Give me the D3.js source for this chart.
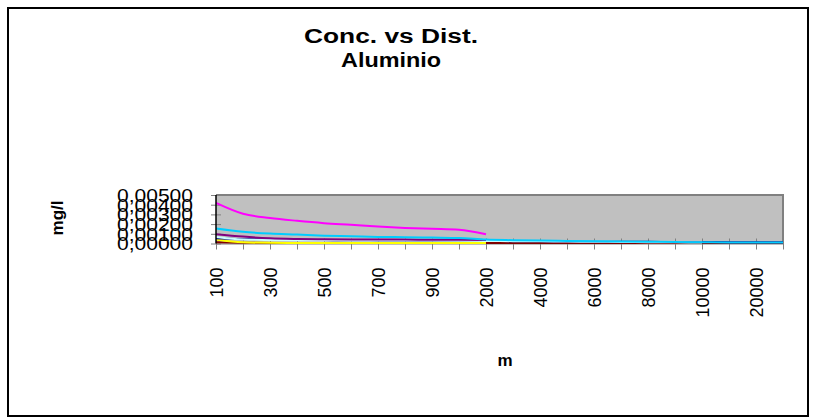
<!DOCTYPE html>
<html>
<head>
<meta charset="utf-8">
<script src="https://cdn.jsdelivr.net/npm/d3@7/dist/d3.min.js"></script>
<style>
  html, body { margin: 0; padding: 0; background: #fff; }
  svg { display: block; font-family: Arial, "Liberation Sans", sans-serif; }
</style>
</head>
<body>
<svg id="chart" width="815" height="420"></svg>
<script>
// Distance categories (m)
const distances = [100, 200, 300, 400, 500, 600, 700, 800, 900, 1000,
  2000, 3000, 4000, 5000, 6000, 7000, 8000, 9000, 10000, 15000, 20000, 25000];

// Concentration series (mg/l), null where not measured
const seriesMaroon = [0.00012, 0.00008, 0.00006, 0.00005, 0.00005, 0.00005, 0.00005, 0.00005, 0.00005, 0.00005,
  0.00005, 0.00005, 0.00005, 0.00005, 0.00005, 0.00005, 0.00005, 0.00005, 0.00005, 0.00005, 0.00005, 0.00005];
const seriesYellow = [0.00042, 0.00012, 0.00007, 0.00006, 0.00005, 0.00005, 0.00005, 0.00005, 0.00005, 0.00005,
  0.00005, null, null, null, null, null, null, null, null, null, null, null];
const seriesNavy = [0.00055, 0.00045, 0.00040, 0.00037, 0.00035, 0.00033, 0.00032, 0.00031, 0.00030, 0.00029,
  0.00026, 0.00024, 0.00022, 0.00020, 0.00019, 0.00018, 0.00017, 0.00016, 0.00015, 0.00014, 0.00013, 0.00013];
const seriesTurquoise = [0.00066, 0.00040, 0.00036, 0.00034, 0.00033, 0.00032, 0.00031, 0.00030, 0.00030, 0.00029,
  0.00027, 0.00024, 0.00022, 0.00020, 0.00018, 0.00016, 0.00014, 0.00012, 0.00010, null, null, null];
const seriesPurple = [0.00096, 0.00071, 0.00054, 0.00047, 0.00044, 0.00042, 0.00041, 0.00040, 0.00039, 0.00038,
  0.00035, null, null, null, null, null, null, null, null, null, null, null];
const seriesSkyBlue = [0.00154, 0.00120, 0.00102, 0.00092, 0.00081, 0.00075, 0.00068, 0.00065, 0.00061, 0.00057,
  0.00040, 0.00034, 0.00030, 0.00027, 0.00024, 0.00021, 0.00018, 0.00015, 0.00013, 0.00011, 0.00010, 0.00010];
const seriesMagenta = [0.00419, 0.00307, 0.00263, 0.00234, 0.00210, 0.00193, 0.00175, 0.00161, 0.00151, 0.00141,
  0.00096, null, null, null, null, null, null, null, null, null, null, null];

const yTicks = [0, 0.001, 0.002, 0.003, 0.004, 0.005];

const series = [
  { values: seriesMaroon, color: "#800000" },
  { values: seriesYellow, color: "#FFFF00" },
  { values: seriesNavy, color: "#000080" },
  { values: seriesTurquoise, color: "#CCFFFF" },
  { values: seriesPurple, color: "#800080" },
  { values: seriesSkyBlue, color: "#00CCFF" },
  { values: seriesMagenta, color: "#FF00FF" }
];

const svg = d3.select("#chart");
const plot = { left: 216, right: 783, top: 195, bottom: 243.5 };

// Outer chart frame
svg.append("rect")
  .attr("x", 8).attr("y", 8).attr("width", 800).attr("height", 408)
  .attr("fill", "#fff").attr("stroke", "#000").attr("stroke-width", 2);

const x = d3.scalePoint().domain(distances).range([plot.left, plot.right]);
const y = d3.scaleLinear().domain([0, 0.005]).range([plot.bottom, plot.top]);

// Plot area
svg.append("rect")
  .attr("x", plot.left).attr("y", plot.top)
  .attr("width", plot.right - plot.left).attr("height", plot.bottom - plot.top)
  .attr("fill", "#C0C0C0");
svg.append("path")
  .attr("d", `M${plot.left},${plot.top}H${plot.right}V${plot.bottom}`)
  .attr("fill", "none").attr("stroke", "#808080").attr("stroke-width", 2);

// Axes
const fmt = d => d.toFixed(5).replace(".", ",");
const yAxis = d3.axisLeft(y).tickValues(yTicks).tickFormat(fmt).tickSizeInner(5).tickSizeOuter(0);
const gy = svg.append("g").attr("transform", `translate(${plot.left},0)`).call(yAxis);
gy.select(".domain").remove();
gy.selectAll(".tick line").attr("x2", -5).attr("x1", 5).attr("stroke", "#808080");
gy.selectAll(".tick text")
  .attr("x", -23).attr("dy", "0.36em")
  .attr("font-size", 18).attr("fill", "#000")
  .attr("font-family", "Arial, 'Liberation Sans', sans-serif")
  .attr("textLength", 76).attr("lengthAdjust", "spacingAndGlyphs");

const xAxis = d3.axisBottom(x)
  .tickFormat((d, i) => (i % 2 === 0 ? d : ""))
  .tickSizeInner(6).tickSizeOuter(0);
const gx = svg.append("g").attr("transform", `translate(0,${plot.bottom})`).call(xAxis);
gx.select(".domain").attr("stroke", "#808080");
gx.selectAll(".tick line").attr("y1", -5).attr("y2", 6).attr("stroke", "#808080");
gx.selectAll(".tick text")
  .attr("font-size", 18).attr("fill", "#000")
  .attr("font-family", "Arial, 'Liberation Sans', sans-serif")
  .attr("text-anchor", "end")
  .attr("transform", "rotate(-90)")
  .attr("x", -24).attr("y", 0).attr("dy", "0.36em");

// Series lines (smoothed)
const line = d3.line()
  .defined(d => d.v !== null)
  .curve(d3.curveMonotoneX)
  .x(d => x(d.c))
  .y(d => y(d.v));
series.forEach(s => {
  svg.append("path")
    .datum(distances.map((c, i) => ({ c, v: s.values[i] })))
    .attr("fill", "none")
    .attr("stroke", s.color)
    .attr("stroke-width", 2)
    .attr("d", line);
});

// Value axis line
svg.append("line")
  .attr("x1", plot.left).attr("x2", plot.left)
  .attr("y1", plot.top).attr("y2", plot.bottom)
  .attr("stroke", "#000").attr("stroke-width", 1.5);

// Titles
const title = svg.append("text")
  .attr("text-anchor", "middle")
  .attr("font-weight", "bold").attr("font-size", 20);
title.append("tspan").attr("x", 391).attr("y", 43)
  .attr("textLength", 174).attr("lengthAdjust", "spacingAndGlyphs")
  .text("Conc. vs Dist.");
title.append("tspan").attr("x", 391).attr("y", 67)
  .attr("textLength", 100).attr("lengthAdjust", "spacingAndGlyphs")
  .text("Aluminio");

svg.append("text")
  .attr("transform", "translate(63,218) rotate(-90)")
  .attr("text-anchor", "middle")
  .attr("font-weight", "bold").attr("font-size", 17)
  .text("mg/l");

svg.append("text")
  .attr("x", 505).attr("y", 366)
  .attr("text-anchor", "middle")
  .attr("font-weight", "bold").attr("font-size", 17)
  .text("m");
</script>
</body>
</html>
